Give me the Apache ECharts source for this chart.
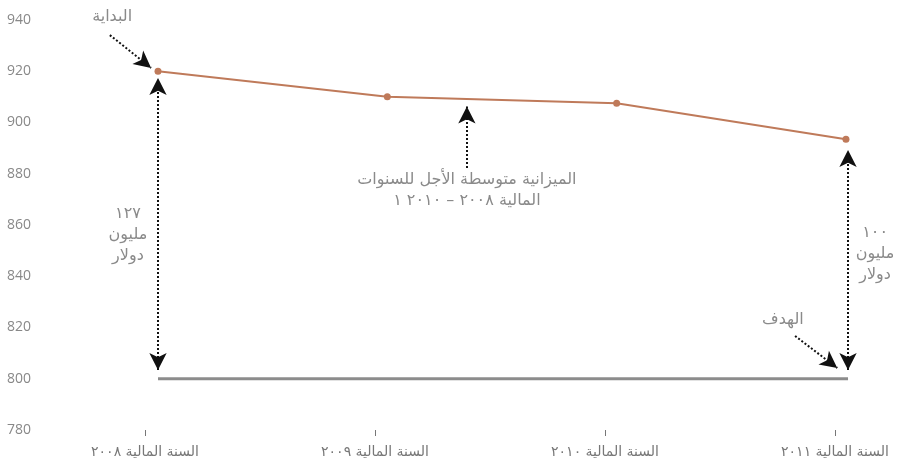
<!DOCTYPE html>
<html>
<head>
<meta charset="utf-8">
<script src="https://cdn.jsdelivr.net/npm/echarts@6/dist/echarts.min.js"></script>
<style>
html, body { margin: 0; padding: 0; background: #fff; }
#chart { width: 901px; height: 461px; }
</style>
</head>
<body>
<div id="chart"></div>
<script>
// بيانات الرسم
var years = ['السنة المالية ٢٠٠٨', 'السنة المالية ٢٠٠٩', 'السنة المالية ٢٠١٠', 'السنة المالية ٢٠١١'];
var budget = [920, 910, 907.5, 893.5];
var target = 800;
var yTicks = { min: 780, max: 940, step: 20 };

var arFont = 'DejaVu Sans';
var textGray = '#8a8a8a';
var arrowColor = '#111';

// أسهم التعليقات (بإحداثيات البيانات: رقم السنة، القيمة)
var arrows = [
    { from: [-0.21, 934.1], to: [-0.03, 921.3], both: false },
    { from: [1.347, 882.2], to: [1.347, 906.2], both: false },
    { from: [0, 803.4], to: [0, 917.4], both: true },
    { from: [3.009, 803.4], to: [3.009, 889.3], both: true },
    { from: [2.778, 816.7], to: [2.962, 804.2], both: false }
];
var notes = [
    { at: [-0.2, 941.2], text: 'البداية' },
    { at: [1.347, 873.6], text: 'الميزانية متوسطة الأجل للسنوات\nالمالية ٢٠٠٨ – ٢٠١٠ ١' },
    { at: [-0.131, 856.0], text: '١٢٧\nمليون\nدولار' },
    { at: [3.127, 848.6], text: '١٠٠\nمليون\nدولار' },
    { at: [2.725, 823.0], text: 'الهدف' }
];

var lineData = budget.map(function (v, i) { return [i, v]; });
var headSize = [13, 17];

var option = {
    backgroundColor: '#FFFFFF',
    animation: false,
    grid: [
        { left: 145, right: 66, top: 20, bottom: 31 },
        // شبكة البيانات تغطي الصفحة كلها حتى تظهر التعليقات خارج المحاور
        { left: 0, right: 0, top: 0, bottom: 0 }
    ],
    xAxis: [{
        type: 'category',
        gridIndex: 0,
        data: years,
        boundaryGap: false,
        axisLine: { show: false },
        axisTick: { show: true, length: 6, lineStyle: { color: '#777', width: 1 } },
        axisLabel: { color: '#777', fontSize: 14, fontFamily: arFont, margin: 15 },
        splitLine: { show: false }
    }, {
        type: 'value',
        gridIndex: 1,
        min: -0.689,
        max: 3.24,
        show: false
    }],
    yAxis: [{
        type: 'value',
        gridIndex: 0,
        min: yTicks.min,
        max: yTicks.max,
        interval: yTicks.step,
        axisLine: { show: false },
        axisTick: { show: false },
        splitLine: { show: false },
        axisLabel: { color: '#888', fontSize: 14, fontFamily: 'Open Sans', margin: 114 }
    }, {
        type: 'value',
        gridIndex: 1,
        min: 767.9,
        max: 947.8,
        show: false
    }],
    series: [{
        name: 'الميزانية',
        type: 'line',
        xAxisIndex: 1,
        yAxisIndex: 1,
        data: lineData,
        symbol: 'circle',
        symbolSize: 7,
        lineStyle: { color: '#bf7a5a', width: 2 },
        itemStyle: { color: '#bf7a5a' }
    }, {
        name: 'الهدف',
        type: 'line',
        xAxisIndex: 1,
        yAxisIndex: 1,
        data: [[0, target], [3.009, target]],
        symbol: 'none',
        lineStyle: { color: '#8c8c8c', width: 3 },
        markLine: {
            silent: true,
            symbol: ['none', 'arrow'],
            symbolSize: headSize,
            label: { show: false },
            lineStyle: { color: arrowColor, type: 'dotted', width: 2 },
            data: arrows.map(function (a) {
                return [
                    { coord: a.from, symbol: a.both ? 'arrow' : 'none', symbolSize: headSize },
                    { coord: a.to, symbol: 'arrow', symbolSize: headSize }
                ];
            })
        },
        markPoint: {
            silent: true,
            symbol: 'circle',
            symbolSize: 0,
            label: {
                show: true,
                position: 'inside',
                color: textGray,
                fontFamily: arFont,
                fontSize: 16,
                lineHeight: 21,
                align: 'center'
            },
            data: notes.map(function (n) {
                return { coord: n.at, value: n.text, label: { formatter: n.text } };
            })
        }
    }]
};

var myChart = echarts.init(document.getElementById('chart'));
myChart.setOption(option);
</script>
</body>
</html>
